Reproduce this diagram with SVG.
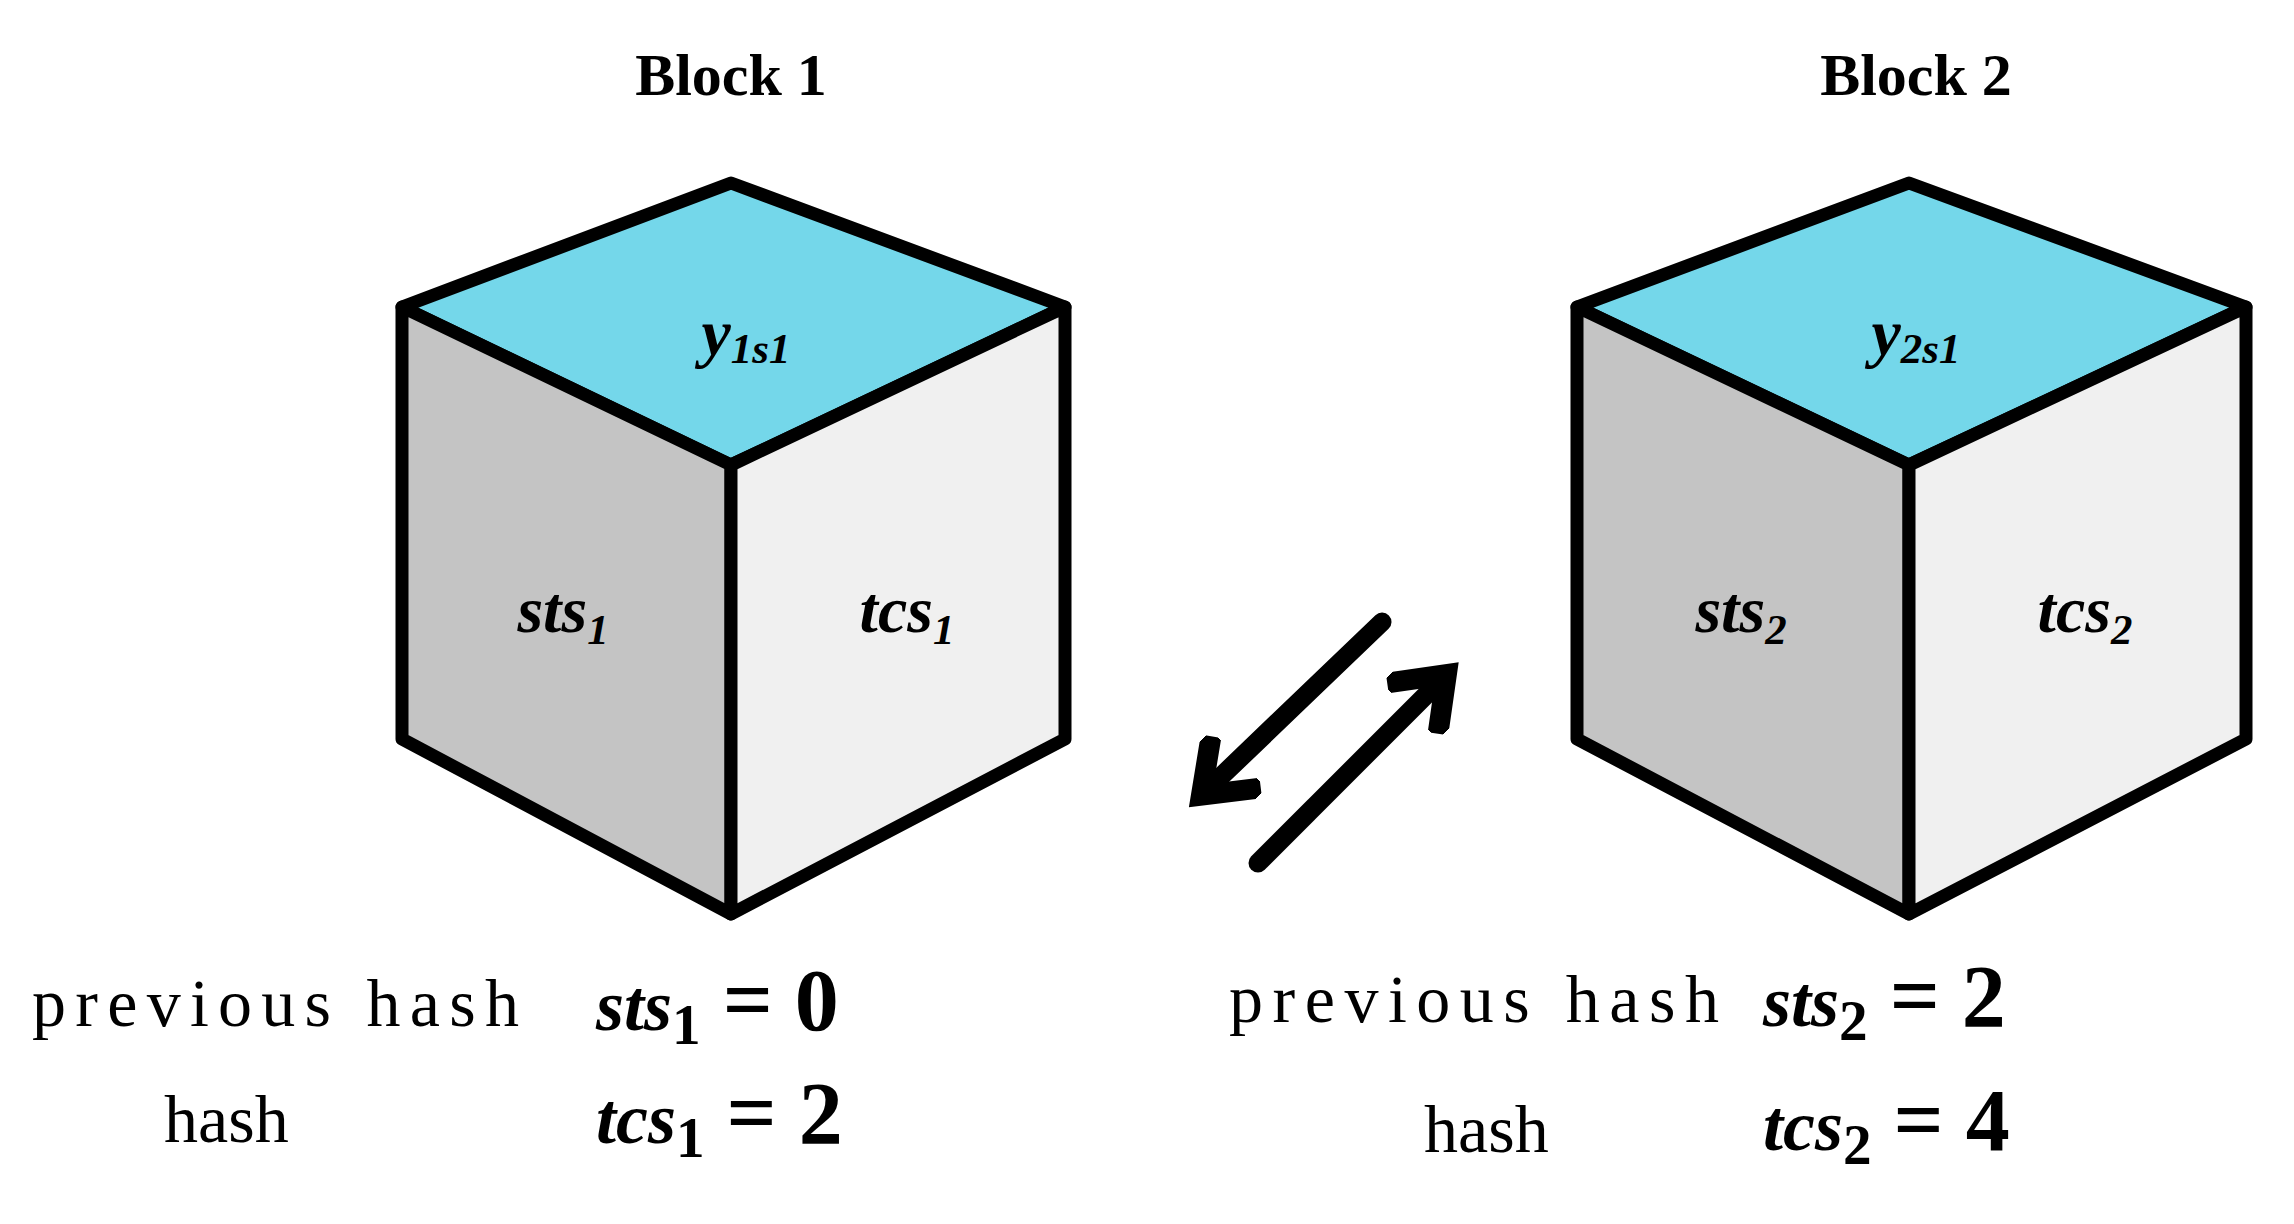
<svg xmlns="http://www.w3.org/2000/svg" width="2294" height="1224" viewBox="0 0 2294 1224">
<style>
.e{stroke:#000;stroke-width:13;stroke-linejoin:round}
.top{fill:#74d7ea}.l{fill:#c4c4c4}.r{fill:#f0f0f0}
.t{font-family:"Liberation Serif",serif;font-weight:bold;font-size:60px;text-anchor:middle}
.v{font-family:"Liberation Serif",serif;font-style:italic;font-weight:bold;font-size:66px;text-anchor:middle}
.p{font-family:"Liberation Serif",serif;font-size:68px}
.q{font-family:"Liberation Serif",serif;font-weight:bold;font-size:88px}
.qi{font-style:italic;font-size:72px}
.s{font-size:0.65em}
</style>
<defs>
<marker id="ah" viewBox="0 0 10 10" refX="5" refY="5" markerWidth="4.2" markerHeight="4.2" orient="auto" markerUnits="strokeWidth">
<path d="M0.5,0.5 L6.5,5 L0.5,9.5" fill="none" stroke="#000" stroke-width="2.6" stroke-linejoin="miter"/>
</marker>
</defs>
<g id="block1">
<text class="t" x="731" y="95">Block 1</text>
<polygon class="e top" points="731,183 1065,307 731,465 402,307"/>
<polygon class="e l" points="402,307 731,465 731,914 402,739"/>
<polygon class="e r" points="731,465 1065,307 1065,739 731,914"/>
<text class="v" x="746" y="355">y<tspan class="s" dy="8">1s1</tspan></text>
<text class="v" x="563" y="632">sts<tspan class="s" dy="12">1</tspan></text>
<text class="v" x="907" y="632">tcs<tspan class="s" dy="12">1</tspan></text>
</g>
<g id="block2">
<text class="t" x="1916" y="95">Block 2</text>
<polygon class="e top" points="1909,183 2246,307 1909,465 1577,307"/>
<polygon class="e l" points="1577,307 1909,465 1909,914 1577,739"/>
<polygon class="e r" points="1909,465 2246,307 2246,739 1909,914"/>
<text class="v" x="1916" y="355">y<tspan class="s" dy="8">2s1</tspan></text>
<text class="v" x="1741" y="632">sts<tspan class="s" dy="12">2</tspan></text>
<text class="v" x="2085" y="632">tcs<tspan class="s" dy="12">2</tspan></text>
</g>
<g id="connectors">
<line x1="1382" y1="622" x2="1210" y2="787" stroke="#000" stroke-width="19" stroke-linecap="round" marker-end="url(#ah)"/>
<line x1="1258" y1="863" x2="1438" y2="683" stroke="#000" stroke-width="19" stroke-linecap="round" marker-end="url(#ah)"/>
</g>
<g id="labels1">
<text class="p" x="32" y="1026" textLength="487">previous hash</text>
<text class="p" x="164" y="1142">hash</text>
<text class="q" x="596" y="1030"><tspan class="qi">sts</tspan><tspan class="s" dy="14">1</tspan><tspan dy="-14"> = 0</tspan></text>
<text class="q" x="596" y="1143"><tspan class="qi">tcs</tspan><tspan class="s" dy="14">1</tspan><tspan dy="-14"> = 2</tspan></text>
</g>
<g id="labels2">
<text class="p" x="1229" y="1022" textLength="490">previous hash</text>
<text class="p" x="1424" y="1152">hash</text>
<text class="q" x="1763" y="1026"><tspan class="qi">sts</tspan><tspan class="s" dy="14">2</tspan><tspan dy="-14"> = 2</tspan></text>
<text class="q" x="1763" y="1150"><tspan class="qi">tcs</tspan><tspan class="s" dy="14">2</tspan><tspan dy="-14"> = 4</tspan></text>
</g>
</svg>
